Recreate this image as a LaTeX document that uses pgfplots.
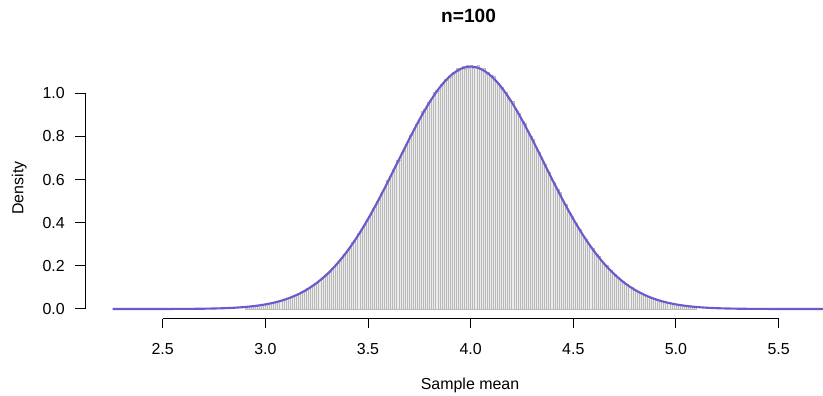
\documentclass[border=0pt]{standalone}
\usepackage{fontspec}
\setmainfont{Liberation Sans}
\usepackage{pgfplots}
\pgfplotsset{compat=1.18}
\definecolor{curve}{RGB}{106,90,205}
\definecolor{barfill}{RGB}{236,236,236}
\definecolor{barline}{RGB}{185,185,185}
\begin{document}
\begin{tikzpicture}
\path[use as bounding box] (0,0) rectangle (617.25bp,297bp);
\begin{axis}[at={(63.75bp,57.975bp)}, anchor=south west, scale only axis,
  width=553.5bp, height=196.575bp,
  xmin=2.1215, xmax=5.7163, ymin=-0.04497, ymax=1.1701,
  hide axis, clip=false]
\addplot[ybar interval, fill=barfill, draw=barline, line width=0.4bp] coordinates {
(2.90,0.010)(2.91,0.011)(2.92,0.011)(2.93,0.013)(2.94,0.013)(2.95,0.015)(2.96,0.016)(2.97,0.017)(2.98,0.019)(2.99,0.020)
(3.00,0.022)(3.01,0.024)(3.02,0.027)(3.03,0.027)(3.04,0.030)(3.05,0.032)(3.06,0.036)(3.07,0.037)(3.08,0.042)(3.09,0.043)
(3.10,0.048)(3.11,0.049)(3.12,0.055)(3.13,0.057)(3.14,0.064)(3.15,0.065)(3.16,0.072)(3.17,0.074)(3.18,0.083)(3.19,0.084)
(3.20,0.094)(3.21,0.096)(3.22,0.107)(3.23,0.108)(3.24,0.119)(3.25,0.121)(3.26,0.135)(3.27,0.138)(3.28,0.151)(3.29,0.154)
(3.30,0.167)(3.31,0.171)(3.32,0.188)(3.33,0.192)(3.34,0.209)(3.35,0.212)(3.36,0.230)(3.37,0.234)(3.38,0.256)(3.39,0.261)
(3.40,0.279)(3.41,0.283)(3.42,0.308)(3.43,0.319)(3.44,0.326)(3.45,0.352)(3.46,0.358)(3.47,0.381)(3.48,0.386)(3.49,0.414)
(3.50,0.428)(3.51,0.436)(3.52,0.467)(3.53,0.475)(3.54,0.498)(3.55,0.504)(3.56,0.538)(3.57,0.546)(3.58,0.563)(3.59,0.595)
(3.60,0.608)(3.61,0.617)(3.62,0.649)(3.63,0.661)(3.64,0.690)(3.65,0.691)(3.66,0.724)(3.67,0.733)(3.68,0.765)(3.69,0.774)
(3.70,0.806)(3.71,0.805)(3.72,0.835)(3.73,0.857)(3.74,0.861)(3.75,0.882)(3.76,0.915)(3.77,0.924)(3.78,0.926)(3.79,0.959)
(3.80,0.966)(3.81,0.975)(3.82,1.004)(3.83,1.013)(3.84,1.011)(3.85,1.041)(3.86,1.043)(3.87,1.066)(3.88,1.061)(3.89,1.079)
(3.90,1.075)(3.91,1.098)(3.92,1.095)(3.93,1.116)(3.94,1.102)(3.95,1.117)(3.96,1.125)(3.97,1.111)(3.98,1.128)(3.99,1.118)
(4.00,1.128)(4.01,1.115)(4.02,1.124)(4.03,1.128)(4.04,1.110)(4.05,1.108)(4.06,1.114)(4.07,1.089)(4.08,1.096)(4.09,1.081)
(4.10,1.083)(4.11,1.078)(4.12,1.050)(4.13,1.046)(4.14,1.025)(4.15,1.027)(4.16,1.005)(4.17,1.003)(4.18,0.970)(4.19,0.969)
(4.20,0.961)(4.21,0.929)(4.22,0.918)(4.23,0.909)(4.24,0.874)(4.25,0.871)(4.26,0.860)(4.27,0.828)(4.28,0.806)(4.29,0.800)
(4.30,0.788)(4.31,0.755)(4.32,0.730)(4.33,0.726)(4.34,0.703)(4.35,0.675)(4.36,0.671)(4.37,0.639)(4.38,0.634)(4.39,0.599)
(4.40,0.589)(4.41,0.560)(4.42,0.554)(4.43,0.540)(4.44,0.507)(4.45,0.492)(4.46,0.484)(4.47,0.450)(4.48,0.446)(4.49,0.431)
(4.50,0.402)(4.51,0.396)(4.52,0.373)(4.53,0.369)(4.54,0.340)(4.55,0.333)(4.56,0.324)(4.57,0.298)(4.58,0.286)(4.59,0.282)
(4.60,0.257)(4.61,0.255)(4.62,0.244)(4.63,0.223)(4.64,0.218)(4.65,0.200)(4.66,0.201)(4.67,0.182)(4.68,0.178)(4.69,0.161)
(4.70,0.162)(4.71,0.145)(4.72,0.142)(4.73,0.128)(4.74,0.128)(4.75,0.115)(4.76,0.113)(4.77,0.101)(4.78,0.100)(4.79,0.089)
(4.80,0.089)(4.81,0.079)(4.82,0.078)(4.83,0.069)(4.84,0.068)(4.85,0.060)(4.86,0.059)(4.87,0.052)(4.88,0.052)(4.89,0.046)
(4.90,0.045)(4.91,0.039)(4.92,0.039)(4.93,0.034)(4.94,0.034)(4.95,0.029)(4.96,0.029)(4.97,0.025)(4.98,0.025)(4.99,0.021)
(5.00,0.021)(5.01,0.018)(5.02,0.018)(5.03,0.016)(5.04,0.014)(5.05,0.014)(5.06,0.012)(5.07,0.012)(5.08,0.010)(5.09,0.010)
(5.10,0)
};
\addplot[curve, line width=1.6bp, smooth, line join=round] coordinates {
(2.2565,0)(2.30,0)(2.35,0)(2.40,0)(2.45,0.0001)(2.50,0.0001)(2.55,0.0003)(2.60,0.0005)(2.65,0.0008)
(2.70,0.0014)(2.75,0.0023)(2.80,0.0037)(2.85,0.0059)(2.90,0.0093)(2.95,0.0142)(3.00,0.0213)
(3.05,0.0313)(3.10,0.0452)(3.15,0.0640)(3.20,0.0887)(3.25,0.1207)(3.30,0.1609)(3.35,0.2103)
(3.40,0.2695)(3.45,0.3385)(3.50,0.4169)(3.55,0.5033)(3.60,0.5957)(3.65,0.6913)(3.70,0.7864)
(3.75,0.8770)(3.80,0.9589)(3.85,1.0279)(3.90,1.0801)(3.95,1.1127)(4.00,1.1238)
(4.05,1.1127)(4.10,1.0801)(4.15,1.0279)(4.20,0.9589)(4.25,0.8770)(4.30,0.7864)(4.35,0.6913)
(4.40,0.5957)(4.45,0.5033)(4.50,0.4169)(4.55,0.3385)(4.60,0.2695)(4.65,0.2103)(4.70,0.1609)
(4.75,0.1207)(4.80,0.0887)(4.85,0.0640)(4.90,0.0452)(4.95,0.0313)(5.00,0.0213)(5.05,0.0142)
(5.10,0.0093)(5.15,0.0059)(5.20,0.0037)(5.25,0.0023)(5.30,0.0014)(5.35,0.0008)(5.40,0.0005)
(5.45,0.0003)(5.50,0.0001)(5.55,0.0001)(5.60,0)(5.65,0)(5.7163,0)
};
\draw[line width=0.75bp] (axis cs:2.5,-0.04497) -- (axis cs:5.5,-0.04497);
\pgfplotsinvokeforeach{2.5,3.0,3.5,4.0,4.5,5.0,5.5}{
  \draw[line width=0.75bp] (axis cs:#1,-0.04497) -- ++(0pt,-7.2bp);
  \path (axis cs:#1,-0.04497) ++(0pt,-26.7bp) node[anchor=base, inner sep=0pt, font=\fontsize{12}{14}\selectfont] {#1};
}
\draw[line width=0.75bp] (axis cs:2.1215,0) -- (axis cs:2.1215,1);
\pgfplotsinvokeforeach{0.0,0.2,0.4,0.6,0.8,1.0}{
  \draw[line width=0.75bp] (axis cs:2.1215,#1) -- ++(-7.2bp,0pt);
  \path (axis cs:2.1215,#1) ++(-15bp,0pt) node[anchor=east, inner sep=0pt, font=\fontsize{12}{14}\selectfont] {#1};
}
\end{axis}
\node[anchor=base, inner sep=0pt, font=\fontsize{14.4}{17}\selectfont\bfseries] at (351.4bp,279.75bp) {n=100};
\node[anchor=base, inner sep=0pt, font=\fontsize{12}{14}\selectfont] at (352.5bp,4.9bp) {Sample mean};
\node[anchor=base, rotate=90, inner sep=0pt, font=\fontsize{12}{14}\selectfont] at (17.5bp,156bp) {Density};
\end{tikzpicture}
\end{document}
